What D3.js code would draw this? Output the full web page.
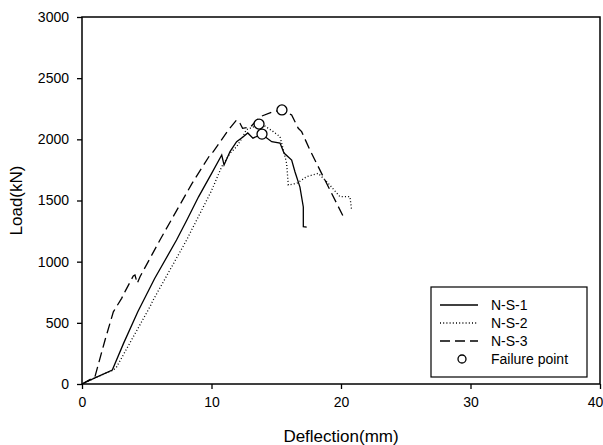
<!DOCTYPE html>
<html>
<head>
<meta charset="utf-8">
<script src="https://cdn.jsdelivr.net/npm/d3@7"></script>
<style>
  body { margin: 0; background: #fff; }
  text { font-family: "Liberation Sans", Arial, sans-serif; fill: #000; }
</style>
</head>
<body>
<div class="svg-chart"></div>
<script>
// deflection (mm) / load (kN)
const ns1X = [0, 1.0, 2.34, 3.2, 4.3, 5.6, 7.3, 8.1, 9.0, 10.0, 10.79, 10.97, 11.43, 11.94, 12.43, 12.8, 13.2, 13.88, 14.65, 15.29, 15.6, 16.19, 16.45, 16.83, 17.09, 17.09, 17.35];
const ns1Y = [0, 50, 114, 330, 588, 860, 1177, 1341, 1530, 1720, 1872, 1790, 1900, 1981, 2019, 2052, 2010, 2041, 1981, 1970, 1888, 1831, 1733, 1610, 1447, 1286, 1283];

const ns2X = [0, 1.0, 2.42, 2.68, 5.25, 5.5, 8.08, 8.47, 8.86, 10.0, 10.79, 11.43, 11.94, 12.3, 12.7, 13.2, 13.67, 14.0, 14.77, 15.29, 15.55, 15.8, 15.93, 16.58, 17.35, 18.25, 19.02, 19.92, 20.69, 20.82];
const ns2Y = [0, 50, 114, 141, 632, 687, 1177, 1260, 1341, 1580, 1777, 1886, 1940, 2000, 2080, 2100, 2125, 2117, 2063, 2022, 1913, 1804, 1627, 1640, 1695, 1722, 1640, 1531, 1531, 1422];

const ns3X = [0, 1.0, 1.78, 2.42, 3.06, 3.32, 3.96, 4.09, 4.27, 4.48, 6.02, 7.05, 8.5, 9.88, 10.14, 11.3, 11.94, 12.2, 12.4, 13.0, 13.75, 14.77, 15.44, 16.19, 16.7, 16.96, 17.6, 18.5, 19.02, 20.18];
const ns3Y = [0, 60, 360, 590, 700, 755, 883, 891, 823, 877, 1177, 1370, 1640, 1872, 1899, 2076, 2158, 2131, 2090, 2100, 2185, 2226, 2240, 2199, 2090, 2063, 1913, 1722, 1613, 1368];

const failX = [13.9, 13.67, 15.44];
const failY = [2043, 2125, 2240];

const legendNames = ["N-S-1", "N-S-2", "N-S-3", "Failure point"];
const xTicks = [0, 10, 20, 30, 40];
const yTicks = [0, 500, 1000, 1500, 2000, 2500, 3000];

const width = 603, height = 445;
const margin = { top: 17, right: 3, bottom: 61, left: 82 };

const svg = d3.select(".svg-chart").append("svg")
  .attr("width", width)
  .attr("height", height);

const xScale = d3.scaleLinear().domain([0, 40]).range([margin.left, width - margin.right]);
const yScale = d3.scaleLinear().domain([0, 3000]).range([height - margin.bottom, margin.top]);

// axes
const xAxis = svg.append("g")
  .attr("transform", `translate(0,${height - margin.bottom})`)
  .call(d3.axisBottom(xScale).tickValues(xTicks).tickFormat(d3.format("d")).tickSize(5).tickPadding(8));
const yAxis = svg.append("g")
  .attr("transform", `translate(${margin.left},0)`)
  .call(d3.axisLeft(yScale).tickValues(yTicks).tickFormat(d3.format("d")).tickSize(5).tickPadding(8));

[xAxis, yAxis].forEach((g) => {
  g.select(".domain").remove();
  g.selectAll("line").attr("stroke", "#000").attr("stroke-width", 1.3);
  g.selectAll("text").style("font-size", "14px").attr("fill", "#000");
});

// last x label sits on the page edge, pull it in a bit
xAxis.selectAll(".tick text").filter((d) => d === 40).attr("dx", "-5");

// frame
svg.append("rect")
  .attr("x", margin.left)
  .attr("y", margin.top)
  .attr("width", width - margin.left - margin.right)
  .attr("height", height - margin.top - margin.bottom)
  .attr("fill", "none")
  .attr("stroke", "#000")
  .attr("stroke-width", 1.5);

const styles = [
  { dash: null },
  { dash: "1,2.2" },
  { dash: "10,5" },
];

const line = d3.line()
  .x((d) => xScale(d[0]))
  .y((d) => yScale(d[1]));

const series = [
  d3.zip(ns1X, ns1Y),
  d3.zip(ns2X, ns2Y),
  d3.zip(ns3X, ns3Y),
];

svg.selectAll("path.series")
  .data(series)
  .enter()
  .append("path")
  .attr("class", "series")
  .attr("d", line)
  .attr("fill", "none")
  .attr("stroke", "#000")
  .attr("stroke-width", 1.3)
  .attr("stroke-dasharray", (d, i) => styles[i].dash);

svg.selectAll("circle.fail")
  .data(d3.zip(failX, failY))
  .enter()
  .append("circle")
  .attr("class", "fail")
  .attr("cx", (d) => xScale(d[0]))
  .attr("cy", (d) => yScale(d[1]))
  .attr("r", 5)
  .attr("fill", "#fff")
  .attr("stroke", "#000")
  .attr("stroke-width", 1.3);

// axis titles
svg.append("text")
  .attr("x", (margin.left + width - margin.right) / 2)
  .attr("y", 442)
  .attr("text-anchor", "middle")
  .style("font-size", "17px")
  .text("Deflection(mm)");

svg.append("text")
  .attr("transform", `translate(22,${(margin.top + height - margin.bottom) / 2}) rotate(-90)`)
  .attr("text-anchor", "middle")
  .style("font-size", "17px")
  .text("Load(kN)");

// legend
const legend = svg.append("g");
legend.append("rect")
  .attr("x", 431)
  .attr("y", 287)
  .attr("width", 156)
  .attr("height", 90)
  .attr("fill", "#fff")
  .attr("stroke", "#000")
  .attr("stroke-width", 1.2);

const rows = legend.selectAll("g.row")
  .data(legendNames)
  .enter()
  .append("g")
  .attr("class", "row")
  .attr("transform", (d, i) => `translate(0,${305 + i * 18})`);

rows.filter((d, i) => i < 3)
  .append("line")
  .attr("x1", 440)
  .attr("x2", 478)
  .attr("stroke", "#000")
  .attr("stroke-width", 1.3)
  .attr("stroke-dasharray", (d, i) => styles[i].dash);

rows.filter((d, i) => i === 3)
  .append("circle")
  .attr("cx", 462)
  .attr("r", 4)
  .attr("fill", "#fff")
  .attr("stroke", "#000")
  .attr("stroke-width", 1.3);

rows.append("text")
  .attr("x", 491)
  .attr("dy", "0.35em")
  .style("font-size", "14px")
  .text((d) => d);
</script>
</body>
</html>
